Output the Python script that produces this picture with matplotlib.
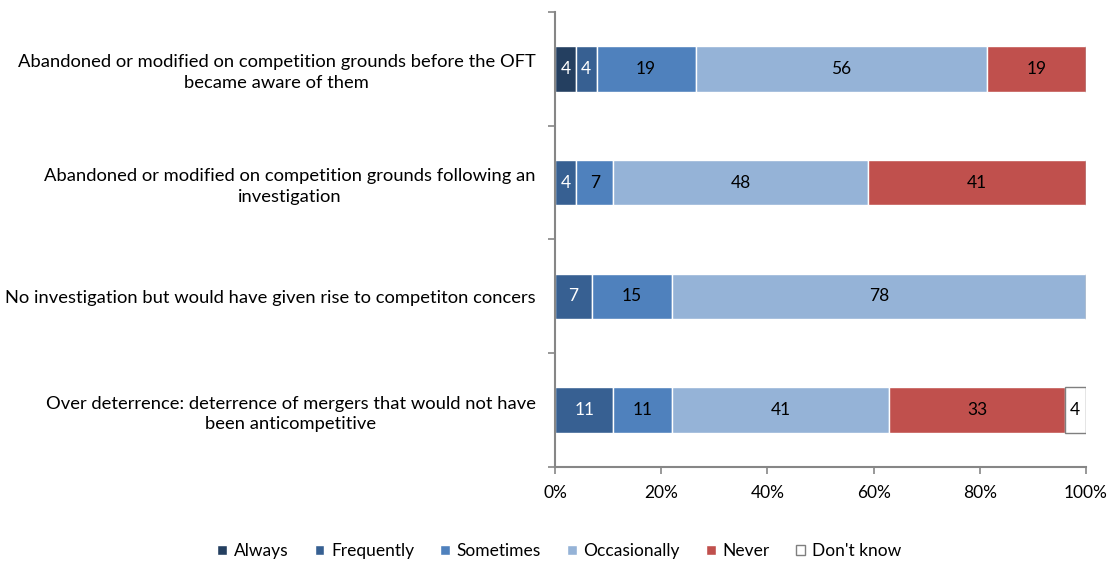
import matplotlib
matplotlib.use("Agg")
import matplotlib.pyplot as plt
import numpy as np

plt.rcParams['font.family'] = ['Lato', 'DejaVu Sans']

categories = [
    "Abandoned or modified on competition grounds before the OFT\nbecame aware of them",
    "Abandoned or modified on competition grounds following an\ninvestigation",
    "No investigation but would have given rise to competiton concers",
    "Over deterrence: deterrence of mergers that would not have\nbeen anticompetitive",
]
series_names = ["Always", "Frequently", "Sometimes", "Occasionally", "Never", "Don't know"]
always       = [4, 0, 0, 0]
frequently   = [4, 4, 7, 11]
sometimes    = [19, 7, 15, 11]
occasionally = [56, 48, 78, 41]
never        = [19, 41, 0, 33]
dont_know    = [0, 0, 0, 4]
x_ticklabels = ["0%", "20%", "40%", "60%", "80%", "100%"]

series = [always, frequently, sometimes, occasionally, never, dont_know]
colors = ["#243F60", "#376092", "#4F81BD", "#95B3D7", "#C0504D", "#FFFFFF"]
edges = ["white", "white", "white", "white", "white", "#7F7F7F"]
text_colors = ["white", "white", "black", "black", "black", "black"]

data = np.array(series, dtype=float)
totals = data.sum(axis=0)
shares = data / totals * 100

fig = plt.figure(figsize=(11.08, 5.61), dpi=100)
ax = fig.add_axes([0.5009, 0.1676, 0.4792, 0.8110])

y = np.arange(len(categories))
left = np.zeros(len(categories))
handles = []
for i, name in enumerate(series_names):
    bars = ax.barh(y, shares[i], left=left, height=0.4, color=colors[i],
                   edgecolor=edges[i], linewidth=1.0, label=name)
    handles.append(bars)
    for j in range(len(categories)):
        if data[i, j] > 0:
            ax.text(left[j] + shares[i, j] / 2, y[j], f"{int(data[i, j])}",
                    ha="center", va="center", fontsize=12.5, color=text_colors[i])
    left += shares[i]

ax.set_xlim(0, 100)
ax.set_ylim(len(categories) - 0.5, -0.5)

ax.set_yticks(y)
ax.set_yticklabels(categories, fontsize=13.2, multialignment="center", linespacing=1.35)
ax.set_yticks(np.arange(-0.5, len(categories)), minor=True)
ax.tick_params(axis="y", which="major", length=0, pad=14)
ax.tick_params(axis="y", which="minor", length=5, color="#868686", width=1.2, direction="out")

ax.set_xticks(np.arange(0, 101, 20))
ax.set_xticklabels(x_ticklabels, fontsize=12.5)
ax.tick_params(axis="x", length=5, color="#868686", width=1.2, direction="out", pad=8)

for s in ["top", "right"]:
    ax.spines[s].set_visible(False)
for s in ["left", "bottom"]:
    ax.spines[s].set_color("#868686")
    ax.spines[s].set_linewidth(1.5)

fig.legend(handles=handles, labels=series_names, loc="center", ncol=6,
           bbox_to_anchor=(0.505, 0.018), frameon=False, fontsize=12.5,
           handlelength=0.55, handleheight=0.55, handletextpad=0.4, columnspacing=1.5)

fig.savefig("out.png", dpi=100)
